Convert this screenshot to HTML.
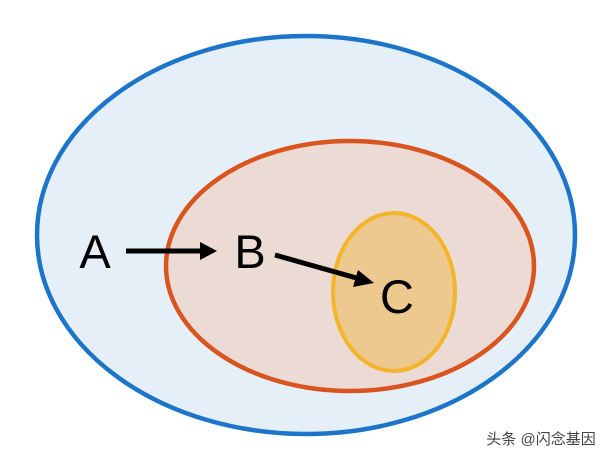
<!DOCTYPE html>
<html><head><style>html,body{margin:0;padding:0;background:#fff;}</style></head>
<body>
<svg width="604" height="460" xmlns="http://www.w3.org/2000/svg">
<ellipse cx="306" cy="235" rx="269" ry="199" fill="#e5eff7" stroke="#1c75c8" stroke-width="4.5"/>
<ellipse cx="350" cy="266" rx="184" ry="125" fill="#ecdad5" stroke="#d9541e" stroke-width="4.5"/>
<ellipse cx="394" cy="292" rx="61" ry="79" fill="#edc88f" stroke="#f3b62b" stroke-width="4"/>
<g font-family="Liberation Sans, sans-serif" font-size="47" fill="#000" text-anchor="middle">
<text x="95" y="268">A</text>
<text x="250" y="268">B</text>
<text x="397" y="313">C</text>
</g>
<line x1="126" y1="251" x2="202" y2="251" stroke="#000" stroke-width="5"/>
<polygon points="217,251 200,242 200,260" fill="#000"/>
<line x1="275" y1="255" x2="360" y2="279" stroke="#000" stroke-width="5"/>
<polygon points="374,283 358,270 353,287" fill="#000"/>
<text x="541" y="444" font-family="Liberation Sans, Noto Sans CJK SC, sans-serif" font-size="15" fill="#444" text-anchor="middle">头条 @闪念基因</text>
</svg>
</body></html>
